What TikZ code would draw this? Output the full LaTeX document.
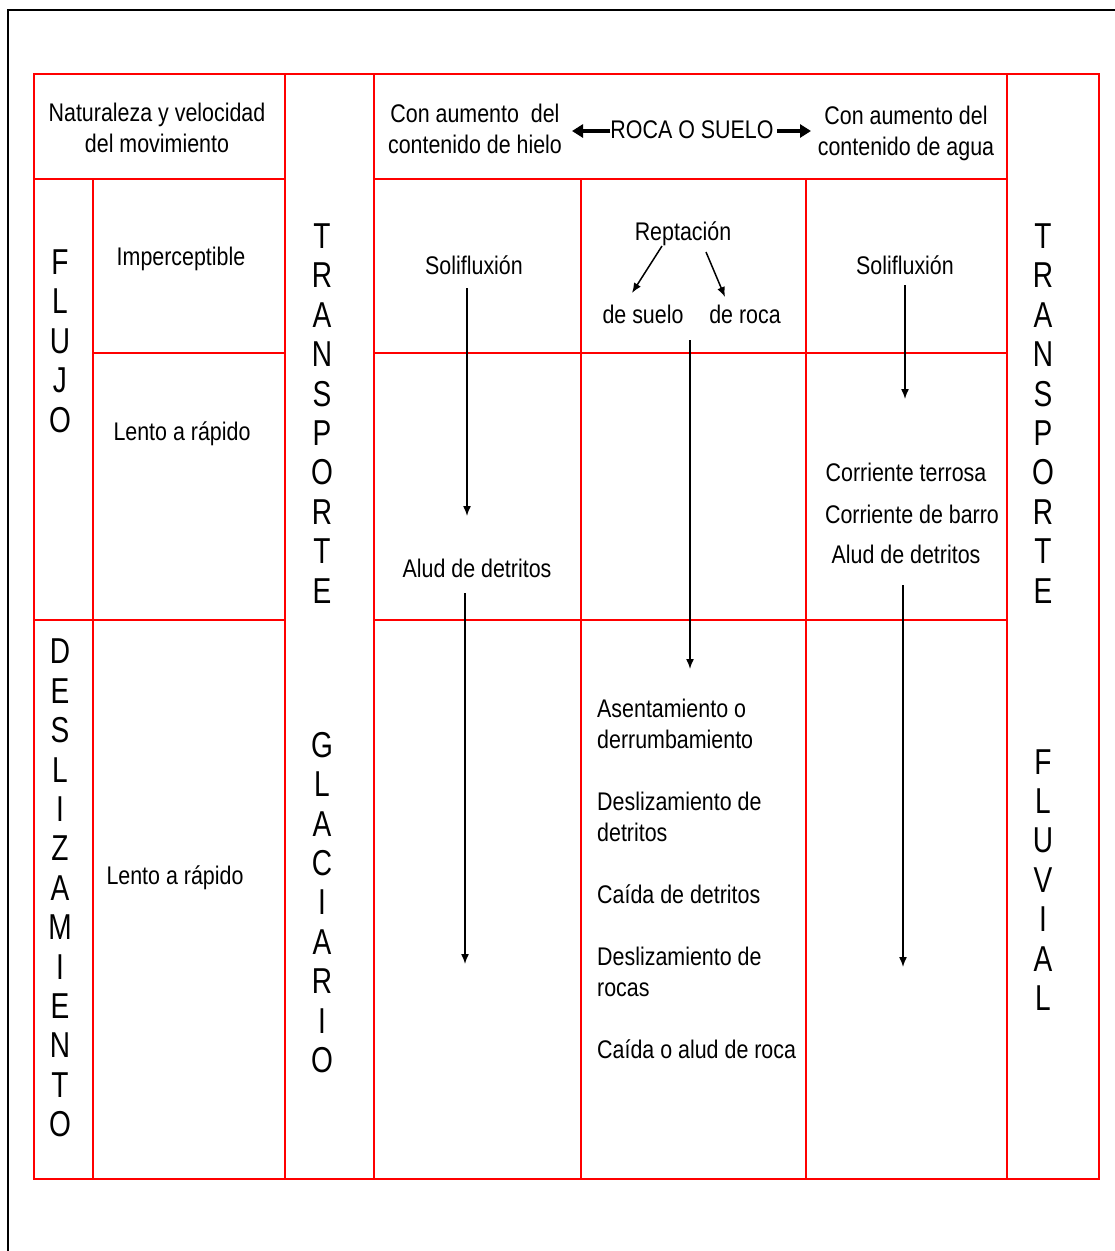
\documentclass[tikz,border=0pt]{standalone}
\usepackage{fontspec}
\setmainfont{Liberation Sans}[FakeStretch=0.84]
\newfontfamily\vfont{Liberation Sans}[FakeStretch=0.78]
\usetikzlibrary{arrows.meta}
\begin{document}
\begin{tikzpicture}[x=1pt,y=-1pt,
  grid/.style={red, line width=2.8pt},
  frame/.style={black, line width=2.6pt},
  txt/.style={font=\fontsize{25.5}{31}\selectfont, inner sep=0pt, align=center},
  ltxt/.style={font=\fontsize{25.5}{31}\selectfont, inner sep=0pt, align=left, anchor=west},
  vert/.style={font=\vfont\fontsize{36}{39.4}\selectfont, inner sep=0pt, align=center},
  arr/.style={-{Latex[length=10pt,width=8pt]}, line width=1.5pt},
  bigarr/.style={-{Triangle[length=11pt,width=13pt]}, line width=3.8pt}]
\useasboundingbox (0,0) rectangle (1115,1251);
\fill[white] (0,0) rectangle (1115,1251);
% outer black frame
\draw[frame] (8,1270) -- (8,10) -- (1130,10);
% red grid
\draw[grid] (34,74) rectangle (1099,1179);
\draw[grid] (93,179) -- (93,1179);
\draw[grid] (285,74) -- (285,1179);
\draw[grid] (374,74) -- (374,1179);
\draw[grid] (581,179) -- (581,1179);
\draw[grid] (806,179) -- (806,1179);
\draw[grid] (1007,74) -- (1007,1179);
\draw[grid] (34,179) -- (285,179);
\draw[grid] (374,179) -- (1007,179);
\draw[grid] (93,353) -- (285,353);
\draw[grid] (374,353) -- (1007,353);
\draw[grid] (34,620) -- (285,620);
\draw[grid] (374,620) -- (1007,620);
% header texts
\node[txt] (nat) at (157,128) {Naturaleza y velocidad\\del movimiento};
\node[txt] (hielo) at (475,128.5) {Con aumento\ \ del\\contenido de hielo};
\node[txt] (roca) at (692,130) {ROCA O SUELO};
\node[txt] (agua) at (906,133) {Con aumento del\\contenido de agua};
\coordinate (rl) at (572,131);
\coordinate (rr0) at (777,131);
\coordinate (rr) at (811,131);
\draw[bigarr] (roca.west |- rl) -- (rl);
\draw[bigarr] (rr0) -- (rr);
% vertical words
\node[vert] (flujo) at (60,341) {F\\L\\U\\J\\O};
\node[vert] (desl) at (60,888) {D\\E\\S\\L\\I\\Z\\A\\M\\I\\E\\N\\T\\O};
\node[vert] (tr1) at (322,413.5) {T\\R\\A\\N\\S\\P\\O\\R\\T\\E};
\node[vert] (glac) at (322,902.5) {G\\L\\A\\C\\I\\A\\R\\I\\O};
\node[vert] (tr2) at (1043,413.5) {T\\R\\A\\N\\S\\P\\O\\R\\T\\E};
\node[vert] (fluv) at (1043,880) {F\\L\\U\\V\\I\\A\\L};
% left column texts
\node[txt] (imp) at (181,259) {Imperceptible};
\node[txt] (lr1) at (182,434) {Lento a rápido};
\node[txt] (lr2) at (175,878) {Lento a rápido};
% ice column
\node[txt] (sol1) at (474,265) {Solifluxión};
\node[txt] (alud1) at (477,568) {Alud de detritos};
\coordinate (s1a) at (467,288);
\coordinate (s1b) at (467,516);
\coordinate (a1a) at (465,593);
\coordinate (a1b) at (465,964);
\draw[arr] (s1a) -- (s1b);
\draw[arr] (a1a) -- (a1b);
% middle column
\node[txt] (rep) at (683,234) {Reptación};
\node[txt] (suelo) at (643,314) {de suelo};
\node[txt] (rocaB) at (745,314) {de roca};
\coordinate (p1a) at (662,246);
\coordinate (p1b) at (632,293);
\coordinate (p2a) at (706,252);
\coordinate (p2b) at (725,297);
\draw[arr] (p1a) -- (p1b);
\draw[arr] (p2a) -- (p2b);
\coordinate (m1a) at (690,340);
\coordinate (m1b) at (690,669);
\draw[arr] (m1a) -- (m1b);
\node[ltxt] (lista) at (597,879) {Asentamiento o\\derrumbamiento\\[31pt]Deslizamiento de\\detritos\\[31pt]Caída de detritos\\[31pt]Deslizamiento de\\rocas\\[31pt]Caída o alud de roca};
% water column
\node[txt] (sol2) at (905,265) {Solifluxión};
\node[txt] (ct) at (906,472) {Corriente terrosa};
\node[txt] (cb) at (912,514) {Corriente de barro};
\node[txt] (ad2) at (906,554) {Alud de detritos};
\coordinate (s2a) at (905,285);
\coordinate (s2b) at (905,399);
\coordinate (a2a) at (903,585);
\coordinate (a2b) at (903,967);
\draw[arr] (s2a) -- (s2b);
\draw[arr] (a2a) -- (a2b);
\end{tikzpicture}
\end{document}
